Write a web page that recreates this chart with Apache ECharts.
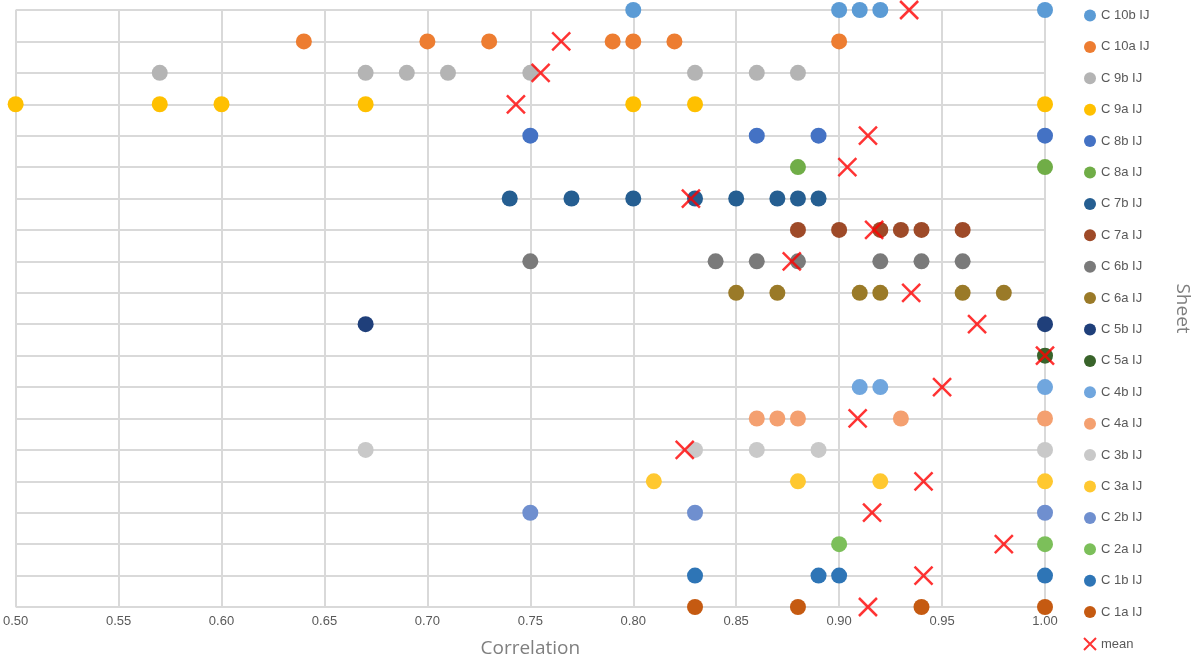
<!DOCTYPE html>
<html lang="en">
<head>
    <meta charset="UTF-8">
    <title>Correlation by sheet</title>
    <script src="https://cdn.jsdelivr.net/npm/echarts@6/dist/echarts.min.js"></script>
    <style>
        html, body { margin: 0; padding: 0; background: #fff; }
        #chart { width: 1200px; height: 664px; }
    </style>
</head>
<body>
<div id="chart"></div>
<script type="text/javascript">
    // sheets, bottom to top
    var sheets = ['C 1a IJ','C 1b IJ','C 2a IJ','C 2b IJ','C 3a IJ','C 3b IJ','C 4a IJ','C 4b IJ','C 5a IJ','C 5b IJ',
                  'C 6a IJ','C 6b IJ','C 7a IJ','C 7b IJ','C 8a IJ','C 8b IJ','C 9a IJ','C 9b IJ','C 10a IJ','C 10b IJ'];
    var colors = ['#C55A11','#2E75B6','#7CBF5A','#6F8FCF','#FFC830','#C9C9C9','#F4A070','#70A6DE','#38632A','#1F3F7A',
                  '#9A7A28','#7A7A7A','#9E4A28','#255E91','#70AD47','#4472C4','#FFC000','#B4B4B4','#ED7D31','#5B9BD5'];

    var c1a = [0.83, 0.88, 0.94, 1.00];
    var c1b = [0.83, 0.89, 0.90, 1.00];
    var c2a = [0.90, 1.00];
    var c2b = [0.75, 0.83, 1.00];
    var c3a = [0.81, 0.88, 0.92, 1.00];
    var c3b = [0.67, 0.83, 0.86, 0.89, 1.00];
    var c4a = [0.86, 0.87, 0.88, 0.93, 1.00];
    var c4b = [0.91, 0.92, 1.00];
    var c5a = [1.00];
    var c5b = [0.67, 1.00];
    var c6a = [0.85, 0.87, 0.91, 0.92, 0.96, 0.98];
    var c6b = [0.75, 0.84, 0.86, 0.88, 0.92, 0.94, 0.96];
    var c7a = [0.88, 0.90, 0.92, 0.93, 0.94, 0.96];
    var c7b = [0.74, 0.77, 0.80, 0.83, 0.85, 0.87, 0.88, 0.89];
    var c8a = [0.88, 1.00];
    var c8b = [0.75, 0.86, 0.89, 1.00];
    var c9a = [0.50, 0.57, 0.60, 0.67, 0.80, 0.83, 1.00];
    var c9b = [0.57, 0.67, 0.69, 0.71, 0.75, 0.83, 0.86, 0.88];
    var c10a = [0.64, 0.70, 0.73, 0.79, 0.80, 0.82, 0.90];
    var c10b = [0.80, 0.90, 0.91, 0.92, 1.00];
    var values = [c1a,c1b,c2a,c2b,c3a,c3b,c4a,c4b,c5a,c5b,c6a,c6b,c7a,c7b,c8a,c8b,c9a,c9b,c10a,c10b];

    // mean per sheet
    var means = [0.914, 0.941, 0.980, 0.916, 0.941, 0.825, 0.909, 0.950, 1.000, 0.967,
                 0.935, 0.877, 0.917, 0.828, 0.904, 0.914, 0.743, 0.755, 0.765, 0.934];

    var chart = echarts.init(document.getElementById('chart'));

    var series = [];
    var legendData = [];
    for (var i = sheets.length - 1; i >= 0; i--) {
        legendData.push(sheets[i]);
    }
    legendData.push('mean');
    for (var i = 0; i < sheets.length; i++) {
        series.push({
            name: sheets[i],
            type: 'scatter',
            symbol: 'circle',
            symbolSize: 16,
            itemStyle: { color: colors[i], opacity: 1 },
            data: values[i].map(function (v) { return [v, sheets[i]]; })
        });
    }
    series.push({
        name: 'mean',
        type: 'scatter',
        symbol: 'path://M0,0L10,10M10,0L0,10',
        symbolSize: 18,
        itemStyle: { color: '#FF0000', borderColor: '#FF0000', borderWidth: 2.5 },
        z: 5,
        data: means.map(function (v, i) { return [v, sheets[i]]; })
    });

    chart.setOption({
        animation: false,
        grid: { left: 15, right: 141, top: 10, bottom: 57 },
        xAxis: {
            type: 'value', min: 0.5, max: 1.0, interval: 0.05,
            name: 'Correlation', nameLocation: 'middle', nameGap: 32,
            nameTextStyle: { color: '#7F7F7F', fontSize: 19, fontFamily: 'Open Sans' },
            axisLine: { show: false }, axisTick: { show: false },
            axisLabel: { color: '#595959', fontSize: 13, formatter: function (v) { return v.toFixed(2); } },
            splitLine: { lineStyle: { color: '#D9D9D9', width: 2 } }
        },
        yAxis: {
            type: 'category', data: sheets, boundaryGap: false, position: 'right',
            name: 'Sheet', nameLocation: 'middle', nameGap: 128, nameRotate: -90,
            nameTextStyle: { color: '#7F7F7F', fontSize: 19, fontFamily: 'Open Sans' },
            axisLine: { show: false }, axisTick: { show: false }, axisLabel: { show: false },
            splitLine: { show: true, lineStyle: { color: '#D9D9D9', width: 2 } }
        },
        legend: {
            orient: 'vertical', left: 1078, top: 4, itemGap: 18.4,
            itemWidth: 12, itemHeight: 12,
            data: legendData,
            textStyle: { color: '#595959', fontSize: 13 }
        },
        series: series
    });
</script>
</body>
</html>
